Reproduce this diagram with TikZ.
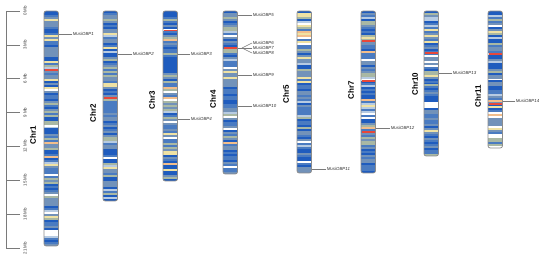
\documentclass[tikz,border=0pt]{standalone}
\usepackage{fontspec}
\setmainfont{Liberation Sans}
\definecolor{cb1}{HTML}{1F5CBE}
\definecolor{cb2}{HTML}{4A7BC1}
\definecolor{cb3}{HTML}{7292B9}
\definecolor{cb4}{HTML}{A9B8A4}
\definecolor{cb5}{HTML}{EFE2A4}
\definecolor{cb6}{HTML}{FFFFFF}
\definecolor{cb7}{HTML}{B7CBE2}
\definecolor{cb8}{HTML}{F2BE8C}
\definecolor{cbr}{HTML}{E8483A}
\definecolor{outl}{HTML}{8C8C8C}
\definecolor{conn}{HTML}{7A7A7A}
\definecolor{txt}{HTML}{333333}
\newcommand\pickcol{%
  \pgfmathrandominteger{\rr}{0}{99}%
  \ifnum\rr<24 \def\bc{cb1}\else
  \ifnum\rr<48 \def\bc{cb2}\else
  \ifnum\rr<70 \def\bc{cb3}\else
  \ifnum\rr<80 \def\bc{cb4}\else
  \ifnum\rr<86 \def\bc{cb5}\else
  \ifnum\rr<93 \def\bc{cb6}\else
  \ifnum\rr<98 \def\bc{cb7}\else
  \def\bc{cb8}\fi\fi\fi\fi\fi\fi\fi}
\newcommand\chromo[6]{% x, top, bottom, N, seed, width
  \pgfmathsetseed{#5}%
  \begin{scope}
    \clip[rounded corners=2.2pt] (#1,#2) rectangle (#1+#6,#3);
    \pgfmathsetmacro\bh{(#3-#2)/#4}
    \foreach \i in {1,...,#4}{%
      \pickcol
      \fill[\bc] (#1,{#2+(\i-1)*\bh}) rectangle (#1+#6,{#2+\i*\bh+0.3});
    }
    \fill[cb1] (#1,#2) rectangle (#1+#6,#2+2.5);
  \end{scope}
}
\newcommand\redband[3]{\fill[cbr] (#1+0.5,#2) rectangle (#1+#3-0.5,#2+1.3);}
\newcommand\outline[3]{\draw[outl, line width=0.8pt, rounded corners=2.2pt] (#1,#2) rectangle (#1+14.5,#3);}
\tikzset{
  chrlab/.style={rotate=90, font=\bfseries\fontsize{8}{8}\selectfont, text=black, inner sep=0},
  genelab/.style={anchor=west, font=\itshape\fontsize{4.4}{4.4}\selectfont, text=txt, inner sep=0.6pt},
  conline/.style={conn, line width=0.5pt},
  scalelab/.style={rotate=90, font=\fontsize{4.4}{4.4}\selectfont, text=txt, inner sep=0},
  scaleline/.style={conn, line width=0.6pt}
}
\begin{document}
\begin{tikzpicture}[x=1pt,y=-1pt]
\useasboundingbox (0,0) rectangle (550,259);
% scale bar
\draw[scaleline] (6,11) -- (6,248);
\foreach \k/\lab in {0/0 Mb,1/3 Mb,2/6 Mb,3/9 Mb,4/12 Mb,5/15 Mb,6/18 Mb,7/21 Mb}{
  \coordinate (t\k) at (6,{11+\k*33.86});
  \coordinate (te\k) at (20,{11+\k*33.86});
  \draw[scaleline] (t\k) -- (te\k);
  \node[scalelab] (sl\k) at (25,{11+\k*33.86}) {\lab};
}
% chromosomes
\chromo{44}{11}{246}{118}{11}{14.5}
\chromo{103}{11}{201}{95}{23}{14.5}
\chromo{163}{11}{181}{85}{37}{14.5}
\chromo{223}{11}{174}{82}{41}{14.5}
\chromo{297}{11}{173}{81}{53}{14.5}
\chromo{361}{11}{173}{81}{67}{14.5}
\chromo{424}{11}{156}{73}{79}{14.5}
\chromo{488}{11}{148}{69}{83}{14.5}
% red bands
\redband{44}{69.5}{14.5}
\redband{103}{97.5}{14.5}
\redband{163}{30}{14.5}
\redband{223}{47.5}{14.5}
\redband{361}{40.5}{14.5}
\redband{361}{80.5}{14.5}
\redband{361}{131.5}{14.5}
\redband{424}{52.5}{14.5}
\redband{488}{53.5}{14.5}
\redband{488}{103.5}{14.5}
% outlines
\outline{44}{11}{246}
\outline{103}{11}{201}
\outline{163}{11}{181}
\outline{223}{11}{174}
\outline{297}{11}{173}
\outline{361}{11}{173}
\outline{424}{11}{156}
\outline{488}{11}{148}
% chromosome labels
\node[chrlab] (c1) at (33,135) {Chr1};
\node[chrlab] (c2) at (93,113) {Chr2};
\node[chrlab] (c3) at (152,100) {Chr3};
\node[chrlab] (c4) at (213,99) {Chr4};
\node[chrlab] (c5) at (286,94) {Chr5};
\node[chrlab] (c7) at (351,90) {Chr7};
\node[chrlab] (c10) at (415,84) {Chr10};
\node[chrlab] (c11) at (478,96) {Chr11};
% gene labels
\coordinate (g1) at (58.5,34);   \node[genelab] (o1) at (72,34) {MusiOBP1};
\coordinate (g2) at (117.5,54);  \node[genelab] (o2) at (132,54) {MusiOBP2};
\coordinate (g3) at (177.5,54);  \node[genelab] (o3) at (190,54) {MusiOBP3};
\coordinate (g4) at (177.5,119); \node[genelab] (o4) at (190,119) {MusiOBP4};
\coordinate (g5) at (237.5,15);  \node[genelab] (o5) at (252,15) {MusiOBP5};
\coordinate (g6) at (237.5,48);  \coordinate (f6) at (242,48);
\node[genelab] (o6) at (252,43) {MusiOBP6};
\node[genelab] (o7) at (252,48) {MusiOBP7};
\node[genelab] (o8) at (252,53) {MusiOBP8};
\coordinate (g9) at (237.5,75);  \node[genelab] (o9) at (252,75) {MusiOBP9};
\coordinate (g10) at (237.5,106); \node[genelab] (o10) at (252,106) {MusiOBP10};
\coordinate (g11) at (311.5,169); \node[genelab] (o11) at (326,169) {MusiOBP11};
\coordinate (g12) at (375.5,128); \node[genelab] (o12) at (390,128) {MusiOBP12};
\coordinate (g13) at (438.5,73);  \node[genelab] (o13) at (452,73) {MusiOBP13};
\coordinate (g14) at (502.5,101); \node[genelab] (o14) at (515,101) {MusiOBP14};
\foreach \n in {1,2,3,4,5,9,10,11,12,13,14}{\draw[conline] (g\n) -- (o\n.west);}
\draw[conline] (g6) -- (f6);
\foreach \n in {6,7,8}{\draw[conline] (f6) -- (o\n.west);}
\end{tikzpicture}
\end{document}
